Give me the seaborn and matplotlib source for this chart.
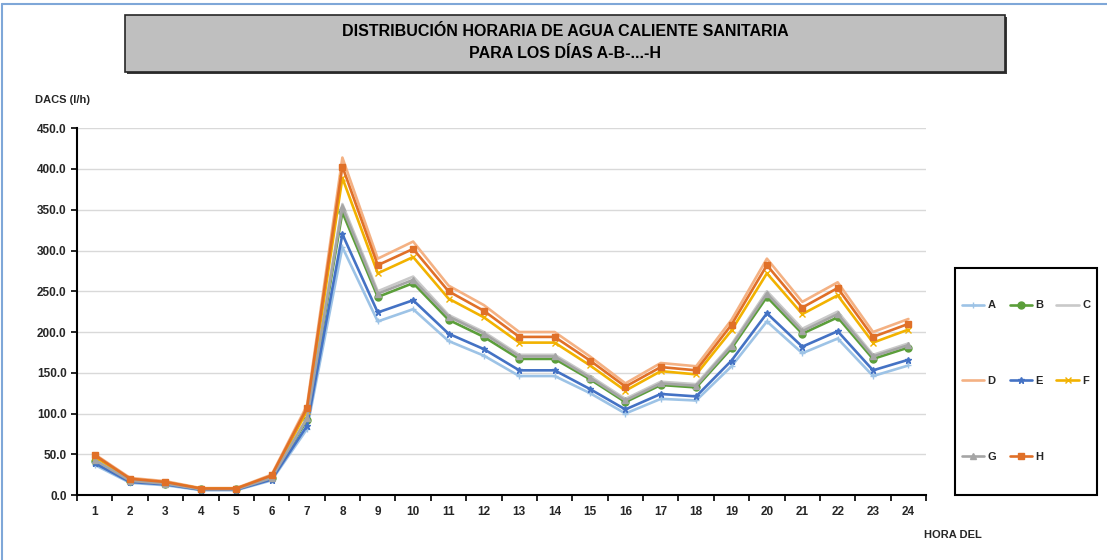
import matplotlib.pyplot as plt
import matplotlib.patches as mpatches
from matplotlib.lines import Line2D
from matplotlib.ticker import FormatStrFormatter, FixedLocator
import pandas as pd
import seaborn as sns

# hours of the day
hours = list(range(1, 25))

# DACS (l/h) per day type
serie_a = [37, 15, 12, 6, 6, 18, 81, 304, 213, 228, 189, 171, 146, 146, 125, 100, 118, 116, 158, 213, 174, 192, 146, 159]
serie_b = [42, 17, 14, 7, 7, 21, 92, 347, 243, 260, 215, 194, 167, 167, 142, 114, 135, 132, 180, 243, 198, 218, 167, 181]
serie_c = [43, 18, 14, 7, 7, 21, 95, 357, 250, 268, 221, 200, 172, 172, 146, 118, 139, 136, 185, 250, 204, 225, 172, 186]
serie_d = [50, 21, 17, 8.5, 8.5, 25, 110, 414, 290, 311, 257, 233, 200, 200, 170, 137, 162, 158, 215, 290, 237, 261, 200, 216]
serie_e = [39, 16, 13, 6.5, 6.5, 19, 85, 320, 224, 239, 198, 179, 153, 153, 130, 105, 124, 121, 165, 223, 182, 201, 153, 166]
serie_f = [47, 19.5, 15.5, 8, 8, 23, 103, 389, 272, 292, 241, 218, 187, 187, 159, 128, 152, 148, 202, 272, 222, 245, 187, 203]
serie_g = [43, 17.5, 14, 7, 7, 21, 94, 353, 247, 264, 219, 198, 170, 170, 144, 116, 137, 134, 183, 247, 201, 222, 170, 184]
serie_h = [49, 20, 16, 8, 8, 24, 107, 403, 282, 302, 250, 226, 194, 194, 165, 133, 157, 153, 209, 282, 230, 254, 194, 210]

labels = ["A", "B", "C", "D", "E", "F", "G", "H"]
series = [serie_a, serie_b, serie_c, serie_d, serie_e, serie_f, serie_g, serie_h]

colors = {
    "A": "#9DC3E6", "B": "#5B9E3A", "C": "#C9C9C9", "D": "#F4B183",
    "E": "#4472C4", "F": "#F2B200", "G": "#A5A5A5", "H": "#E07028",
}
markers = {
    "A": "+", "B": "o", "C": "", "D": "", "E": "*", "F": "x", "G": "^", "H": "s",
}

df = pd.DataFrame(
    [(h, lab, v) for lab, vals in zip(labels, series) for h, v in zip(hours, vals)],
    columns=["Hora", "Dia", "DACS"],
)

sns.set_style("white")
plt.rcParams["font.family"] = ["Liberation Sans", "DejaVu Sans"]

fig = plt.figure(figsize=(11.07, 5.6), dpi=100)
ax = fig.add_axes([0.0696, 0.116, 0.767, 0.655])

handles = []
for lab in labels:
    sub = df[df["Dia"] == lab]
    m = markers[lab] if markers[lab] else None
    sns.lineplot(
        data=sub, x="Hora", y="DACS", ax=ax, color=colors[lab],
        marker=m, markersize=5, markeredgewidth=1, markeredgecolor=colors[lab],
        linewidth=1.9, legend=False,
    )
    handles.append(
        Line2D([], [], color=colors[lab], marker=m, markersize=5,
               markeredgecolor=colors[lab], linewidth=1.9, label=lab)
    )

ax.set_xlim(0.5, 24.5)
ax.set_ylim(0, 450)

# category axis: ticks between hours, labels on hours
ax.xaxis.set_major_locator(FixedLocator([h - 0.5 for h in hours] + [24.5]))
ax.xaxis.set_minor_locator(FixedLocator(hours))
ax.set_xticklabels([], minor=False)
ax.set_xticklabels([str(h) for h in hours], minor=True, fontsize=8.5, fontweight="bold")
ax.tick_params(axis="x", which="major", direction="out", length=4, width=1.2, color="black", bottom=True)
ax.tick_params(axis="x", which="minor", length=0, pad=8)

ax.yaxis.set_major_locator(FixedLocator(range(0, 451, 50)))
ax.yaxis.set_major_formatter(FormatStrFormatter("%.1f"))
ax.tick_params(axis="y", direction="out", length=4, width=1.2, color="black", left=True, labelsize=8.5)
for t in ax.get_yticklabels():
    t.set_fontweight("bold")

ax.grid(axis="y", color="#D9D9D9", linewidth=1)
ax.set_axisbelow(True)
for s in ["top", "right"]:
    ax.spines[s].set_visible(False)
for s in ["left", "bottom"]:
    ax.spines[s].set_color("black")
    ax.spines[s].set_linewidth(1.5)
ax.set_xlabel("")
ax.set_ylabel("")

fig.text(35 / 1107, 1 - 100 / 560, "DACS (l/h)", fontsize=8, fontweight="bold", va="center", ha="left")
fig.text(953 / 1107, 1 - 535 / 560, "HORA DEL", fontsize=8, fontweight="bold", va="center", ha="center")

# title box
shadow = mpatches.Rectangle((127 / 1107, 1 - 74 / 560), 880 / 1107, 57 / 560,
                            transform=fig.transFigure, facecolor="#3A3A3A", edgecolor="none")
box = mpatches.Rectangle((125 / 1107, 1 - 72 / 560), 880 / 1107, 57 / 560,
                         transform=fig.transFigure, facecolor="#BFBFBF", edgecolor="#262626", linewidth=1.2)
fig.patches.extend([shadow, box])
fig.text(565 / 1107, 1 - 32 / 560, "DISTRIBUCIÓN HORARIA DE AGUA CALIENTE SANITARIA",
         fontsize=11.5, fontweight="bold", ha="center", va="center", color="black")
fig.text(565 / 1107, 1 - 53 / 560, "PARA LOS DÍAS A-B-...-H",
         fontsize=11.5, fontweight="bold", ha="center", va="center", color="black")

# outer light blue border (top and left)
fig.add_artist(Line2D([0.002, 0.002], [0, 0.993], color="#7FA7D8", linewidth=1.5, transform=fig.transFigure))
fig.add_artist(Line2D([0.002, 1], [0.993, 0.993], color="#7FA7D8", linewidth=1.5, transform=fig.transFigure))

# legend frame drawn by hand
leg_box = mpatches.Rectangle((955 / 1107, 1 - 495 / 560), 142 / 1107, 227 / 560,
                             transform=fig.transFigure, facecolor="white", edgecolor="black", linewidth=1.5)
fig.patches.append(leg_box)

# legend: rows A B C / D E F / G H
order = [0, 3, 6, 1, 4, 7, 2, 5]
leg = fig.legend(
    [handles[i] for i in order], [labels[i] for i in order],
    ncol=3, loc="center", bbox_to_anchor=(1026 / 1107, 1 - 381 / 560),
    frameon=False, handlelength=2.0,
    handletextpad=0.3, columnspacing=1.2, labelspacing=5.9,
    prop={"weight": "bold", "size": 8},
)

fig.savefig("out.png", dpi=100)
